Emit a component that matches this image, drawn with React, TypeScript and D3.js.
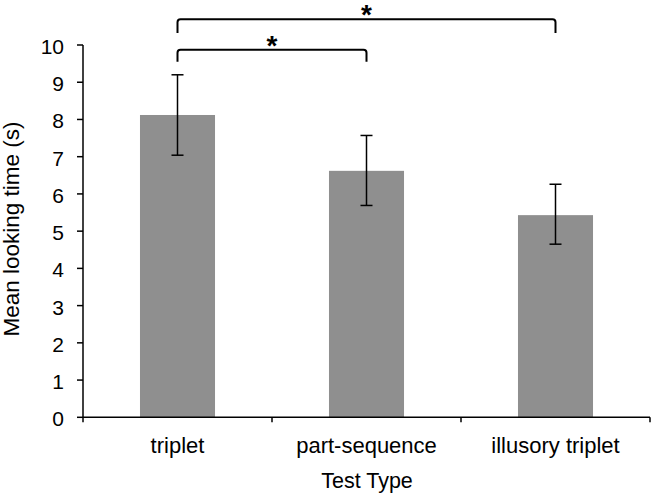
import React from "react";
import * as d3 from "d3";

const categories = ["triplet", "part-sequence", "illusory triplet"];
const means = [8.12, 6.62, 5.43];
const errUpper = [9.2, 7.57, 6.26];
const errLower = [7.04, 5.69, 4.65];
const yTicks = [0, 1, 2, 3, 4, 5, 6, 7, 8, 9, 10];
const brackets = [
  { from: "triplet", to: "illusory triplet", top: 10.69, leg: 10.32, label: "*" },
  { from: "triplet", to: "part-sequence", top: 9.87, leg: 9.55, label: "*" },
];

const W = 654;
const H = 495;
const font = "'Liberation Sans', Arial, Helvetica, sans-serif";

export default function App() {
  const x = d3
    .scaleBand<string>()
    .domain(categories)
    .range([83, 650])
    .paddingInner(0.603)
    .paddingOuter(0.3015);
  const y = d3.scaleLinear().domain([0, 10]).range([417.3, 45]);
  const step = x.step();
  const center = (c: string) => (x(c) as number) + x.bandwidth() / 2;
  const boundaries = d3.range(categories.length + 1).map((i) => 83 + i * step);

  return (
    <svg
      width={W}
      height={H}
      style={{ position: "absolute", left: 0, top: 0, background: "#fff" }}
      fontFamily={font}
    >
      <rect width={W} height={H} fill="#fff" />
      {/* bars */}
      {categories.map((c, i) => (
        <rect
          key={c}
          x={x(c)}
          y={y(means[i])}
          width={x.bandwidth()}
          height={y(0) - y(means[i])}
          fill="#8f8f8f"
        />
      ))}
      {/* error bars */}
      {categories.map((c, i) => {
        const cx = center(c);
        return (
          <g key={"e" + c} stroke="#000" strokeWidth={1.5}>
            <line x1={cx} x2={cx} y1={y(errUpper[i])} y2={y(errLower[i])} />
            <line x1={cx - 6} x2={cx + 6} y1={y(errUpper[i])} y2={y(errUpper[i])} />
            <line x1={cx - 6} x2={cx + 6} y1={y(errLower[i])} y2={y(errLower[i])} />
          </g>
        );
      })}
      {/* y axis */}
      <line x1={83} x2={83} y1={y(10)} y2={y(0)} stroke="#000" strokeWidth={1.5} />
      {yTicks.map((t) => (
        <g key={t}>
          <line x1={77} x2={83} y1={y(t)} y2={y(t)} stroke="#000" strokeWidth={1.5} />
          <text x={64} y={y(t) + 9} textAnchor="end" fontSize={21} fill="#000">
            {t}
          </text>
        </g>
      ))}
      {/* x axis */}
      <line x1={83} x2={650} y1={y(0)} y2={y(0)} stroke="#000" strokeWidth={1.5} />
      {boundaries.map((b, i) => (
        <line key={i} x1={b} x2={b} y1={y(0)} y2={y(0) + 5} stroke="#000" strokeWidth={1.5} />
      ))}
      {categories.map((c) => (
        <text key={"l" + c} x={center(c)} y={453} textAnchor="middle" fontSize={22} fill="#000">
          {c}
        </text>
      ))}
      <text x={367} y={488} textAnchor="middle" fontSize={21.5} fill="#000">
        Test Type
      </text>
      <text
        transform={`translate(19,229) rotate(-90)`}
        textAnchor="middle"
        fontSize={22.5}
        fill="#000"
      >
        Mean looking time (s)
      </text>
      {/* significance brackets */}
      {brackets.map((b, i) => {
        const x1 = center(b.from);
        const x2 = center(b.to);
        const yt = y(b.top);
        const yl = y(b.leg);
        const r = 3;
        const d = `M${x1},${yl} L${x1},${yt + r} Q${x1},${yt} ${x1 + r},${yt} L${x2 - r},${yt} Q${x2},${yt} ${x2},${yt + r} L${x2},${yl}`;
        return (
          <g key={"b" + i}>
            <path d={d} fill="none" stroke="#000" strokeWidth={2} />
            <text
              x={(x1 + x2) / 2}
              y={yt + 5}
              textAnchor="middle"
              fontSize={28}
              fontWeight="bold"
              fill="#000"
            >
              {b.label}
            </text>
          </g>
        );
      })}
    </svg>
  );
}
